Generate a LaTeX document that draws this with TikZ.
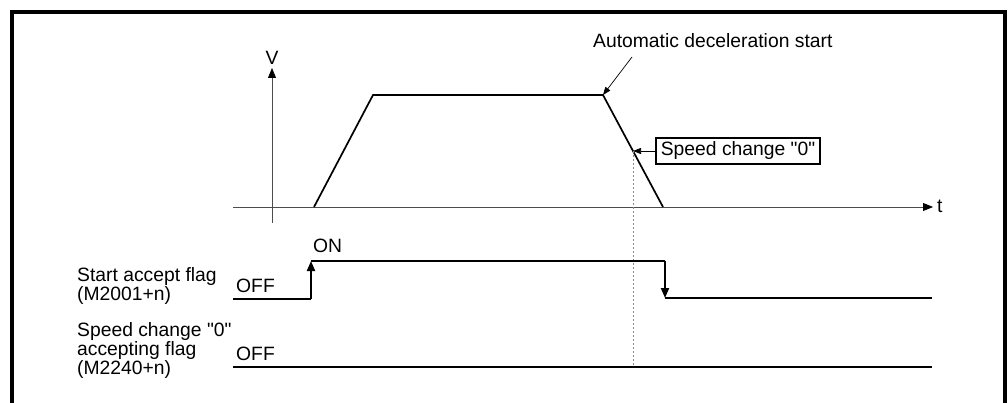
\documentclass[tikz,border=0pt]{standalone}
\usepackage{fontspec}
\setmainfont{Liberation Sans}[Ligatures=TeXOff]
\usetikzlibrary{arrows.meta}
\begin{document}
\begin{tikzpicture}[x=1pt,y=-1pt,
  txt/.style={inner sep=0pt, font=\fontsize{19.3}{17}\selectfont},
  lbl/.style={txt, align=left, anchor=base west},
  axisline/.style={draw=black!70, line width=0.8pt},
  curve/.style={draw=black, line width=1.7pt, line join=miter},
  flag/.style={draw=black, line width=2pt},
  bigtip/.style={-{Triangle[length=10pt,width=8pt,color=black]}},
  smalltip/.style={-{Triangle[length=8pt,width=6pt]}},
  frameline/.style={draw=black, line width=4pt},
  guide/.style={draw=black!45, line width=0.8pt, dash pattern=on 2pt off 2pt}]
\useasboundingbox (0,0) rectangle (1008,403);
% frame (open at the bottom)
\coordinate (fbl) at (12,410);
\coordinate (ftl) at (12,12.5);
\coordinate (ftr) at (1005,12.5);
\coordinate (fbr) at (1005,410);
\draw[frameline] (fbl) -- (ftl) -- (ftr) -- (fbr);
% axes
\coordinate (vbot) at (272,223);
\coordinate (vtop) at (272,68);
\coordinate (tleft) at (233,207);
\coordinate (tright) at (933,207);
\draw[axisline, bigtip] (vbot) -- (vtop);
\draw[axisline, bigtip] (tleft) -- (tright);
\node[txt, anchor=base] (V) at (272,65) {V};
\node[txt, anchor=base west] (t) at (937,213) {t};
% speed profile
\coordinate (p0) at (314,207);
\coordinate (p1) at (373,95);
\coordinate (p2) at (603,95);
\coordinate (p3) at (663,207);
\draw[curve] (p0) -- (p1) -- (p2) -- (p3);
% automatic deceleration start
\node[txt, anchor=base west] (ads) at (593,48) {Automatic deceleration start};
\coordinate (adsfoot) at (632,57);
\draw[black, line width=0.7pt, smalltip] (adsfoot) -- (p2);
% speed change 0
\coordinate (sc) at (633,151);
\node[txt, draw=black, line width=1.2pt, minimum width=164pt, minimum height=26pt] (scbox) at (738,151) {Speed change "0"};
\draw[black, line width=0.7pt, smalltip] (scbox.west) -- (sc);
\coordinate (guidebot) at (633,367);
\draw[guide] (sc) -- (guidebot);
% start accept flag
\coordinate (f1a) at (233,299);
\coordinate (f1b) at (311,299);
\coordinate (f1c) at (311,261);
\coordinate (f1d) at (665,261);
\coordinate (f1e) at (665,298);
\coordinate (f1f) at (932,298);
\draw[flag] (f1a) -- (f1b);
\draw[flag, bigtip] (f1b) -- (f1c);
\draw[flag] (f1c) -- (f1d);
\draw[flag, bigtip] (f1d) -- (f1e);
\draw[flag] (f1e) -- (f1f);
\node[txt, anchor=base west] (on) at (313,252) {ON};
\node[txt, anchor=base west] (off1) at (236,292) {OFF};
% speed change 0 accepting flag
\coordinate (f2a) at (233,367);
\coordinate (f2b) at (932,367);
\draw[flag] (f2a) -- (f2b);
\node[txt, anchor=base west] (off2) at (236,360) {OFF};
% labels
\node[lbl] (l1) at (77,300) {Start accept flag\\(M2001+n)};
\node[lbl] (l2) at (77,374) {Speed change "0"\\accepting flag\\(M2240+n)};
\end{tikzpicture}
\end{document}
